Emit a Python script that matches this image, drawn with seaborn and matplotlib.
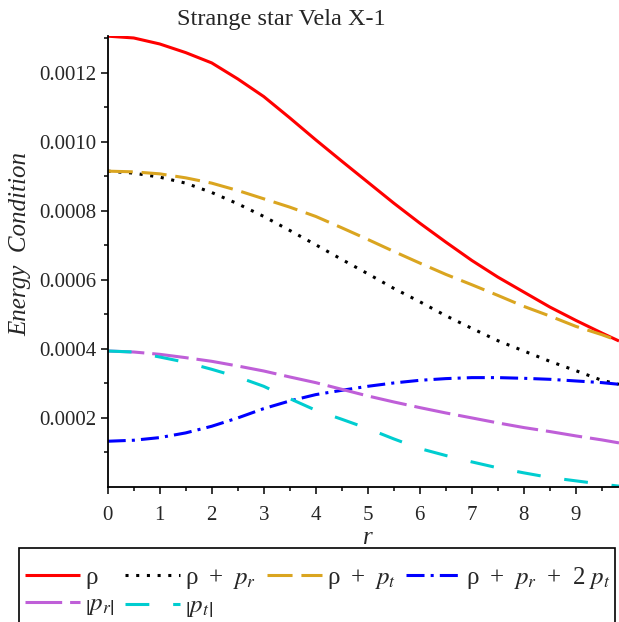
import numpy as np
import pandas as pd
import matplotlib
matplotlib.use("Agg")
import matplotlib.pyplot as plt
from matplotlib.patches import Rectangle
import seaborn as sns

# ---- data ----
r = [0, 0.5, 1, 1.5, 2, 2.5, 3, 3.5, 4, 4.5, 5, 5.5, 6, 6.5, 7, 7.5, 8, 8.5, 9, 9.5, 9.83]
rho = [1306.5, 1301.3, 1283.9, 1258.8, 1228.9, 1182.5, 1131.3, 1069.5, 1005.7, 943.9,
       883.0, 822.1, 764.1, 709.1, 655.9, 607.6, 564.1, 520.7, 482.0, 445.3, 422.1]
rho_pr = [914.9, 909.1, 897.5, 880.1, 853.0, 820.2, 783.5, 742.9, 701.3, 658.8,
          617.3, 574.8, 536.1, 495.5, 458.8, 423.1, 393.2, 363.2, 336.1, 308.1, 296.5]
rho_pt = [914.9, 912.9, 907.1, 895.5, 880.1, 858.8, 834.7, 810.5, 783.5, 750.6,
          716.8, 682.0, 648.2, 615.4, 585.4, 554.5, 522.6, 494.6, 464.6, 440.5, 422.1]
rho_pr_2pt = [131.3, 134.2, 141.9, 155.5, 174.8, 198.9, 226.0, 248.2, 266.6, 279.1,
              290.7, 300.4, 308.1, 313.0, 315.9, 315.9, 313.9, 311.0, 306.2, 301.4, 296.5]
abs_pr = [393.1, 390.2, 383.5, 373.8, 363.2, 349.6, 335.1, 317.8, 301.3, 282.0,
          262.7, 245.3, 228.9, 213.4, 199.0, 184.5, 171.0, 159.4, 146.8, 135.2, 126.5]
abs_pt = [393.1, 390.2, 375.7, 360.3, 340.0, 317.8, 290.7, 255.0, 221.2, 195.1,
          168.1, 138.1, 110.1, 89.9, 71.4, 54.1, 39.6, 26.1, 16.4, 6.8, 1.0]
SCALE = 1e-6  # values above are in units of 1e-6

TS = "\u2009"  # thin space
labels = ["ρ",
          f"ρ {TS}+{TS} $p_r$",
          f"ρ {TS}+{TS} $p_t$",
          f"ρ {TS}+{TS} $p_r$ {TS}+{TS} 2 $p_t$",
          r"$\left|p_r\right|$", r"$\left|p_t\right|$"]
series = [rho, rho_pr, rho_pt, rho_pr_2pt, abs_pr, abs_pt]
colors = ["#ff0000", "#000000", "#daa520", "#0000ff", "#bf5fd8", "#00cdd0"]
LW = 2.2
dashes = [(None, None), (1, 2.5), (8.2, 2.9), (5.9, 2.0, 1.0, 2.0), (12.0, 2.6), (7.8, 7.8)]

sns.set_style("ticks")
plt.rcParams["font.family"] = ["Liberation Serif", "DejaVu Serif"]
plt.rcParams["mathtext.fontset"] = "stix"

fig = plt.figure(figsize=(6.19, 6.22), dpi=100)
ax = fig.add_axes([107.7 / 619, 1 - 486.5 / 622, (619 - 107.7) / 619, (486.5 - 36) / 622])

handles = []
for y, lab, c, d in zip(series, labels, colors, dashes):
    df = pd.DataFrame({"r": r, "v": np.array(y) * SCALE})
    sns.lineplot(data=df, x="r", y="v", ax=ax, color=c, lw=LW, label=lab)
    line = ax.get_lines()[-1]
    if d[0] is not None:
        line.set_dashes(d)
    line.set_solid_capstyle("butt")
    line.set_dash_capstyle("butt")
    line.set_solid_joinstyle("round")
    handles.append(line)

ax.set_xlim(0, 9.83)
ax.set_ylim(0, 0.001307)
ax.set_xticks(range(0, 10))
ax.set_xticks(np.arange(0.5, 9.83, 1.0), minor=True)
ax.set_yticks([0.0002, 0.0004, 0.0006, 0.0008, 0.0010, 0.0012])
ax.set_yticklabels(["0.0002", "0.0004", "0.0006", "0.0008", "0.0010", "0.0012"])
ax.set_yticks([0.0001, 0.0003, 0.0005, 0.0007, 0.0009, 0.0011, 0.0013], minor=True)
ax.tick_params(axis="both", which="major", length=5, width=1.1, labelsize=15, pad=3, color="black")
ax.tick_params(axis="both", which="minor", length=3, width=1.1, color="black")
ax.tick_params(axis="x", which="major", pad=9)
for s in ["top", "right"]:
    ax.spines[s].set_visible(False)
for s in ["left", "bottom"]:
    ax.spines[s].set_linewidth(1.3)
    ax.spines[s].set_color("black")

ax.set_xlabel("r", fontstyle="italic", fontsize=18, labelpad=0)
ax.xaxis.set_label_coords((368 - 107.7) / 511.3, (486.5 - 527) / 450.5)
ax.set_ylabel("Energy  Condition", fontstyle="italic", fontsize=18)
ax.yaxis.set_label_coords((31 - 107.7) / 511.3, (486.5 - 244) / 450.5)

fig.text(281 / 619, 1 - 20 / 622, "Strange star Vela X-1", ha="center", va="center", fontsize=17.5)

ax.get_legend().remove()
order = [0, 4, 1, 5, 2, 3]
leg = fig.legend([handles[i] for i in order], [labels[i] for i in order],
                 loc="upper left", bbox_to_anchor=(25 / 619, 1 - 565 / 622),
                 ncol=4, fontsize=18, frameon=False,
                 handlelength=2.2, handletextpad=0.2, columnspacing=0.42,
                 labelspacing=0.15, borderpad=0, borderaxespad=0)
# legend box (extends past the bottom edge, as in the reference)
fig.add_artist(Rectangle((19 / 619, -0.05), (615 - 19) / 619, (622 - 548) / 622 + 0.05,
                         transform=fig.transFigure, fill=False, edgecolor="black", lw=1.2))

fig.savefig("out.png", dpi=100)
